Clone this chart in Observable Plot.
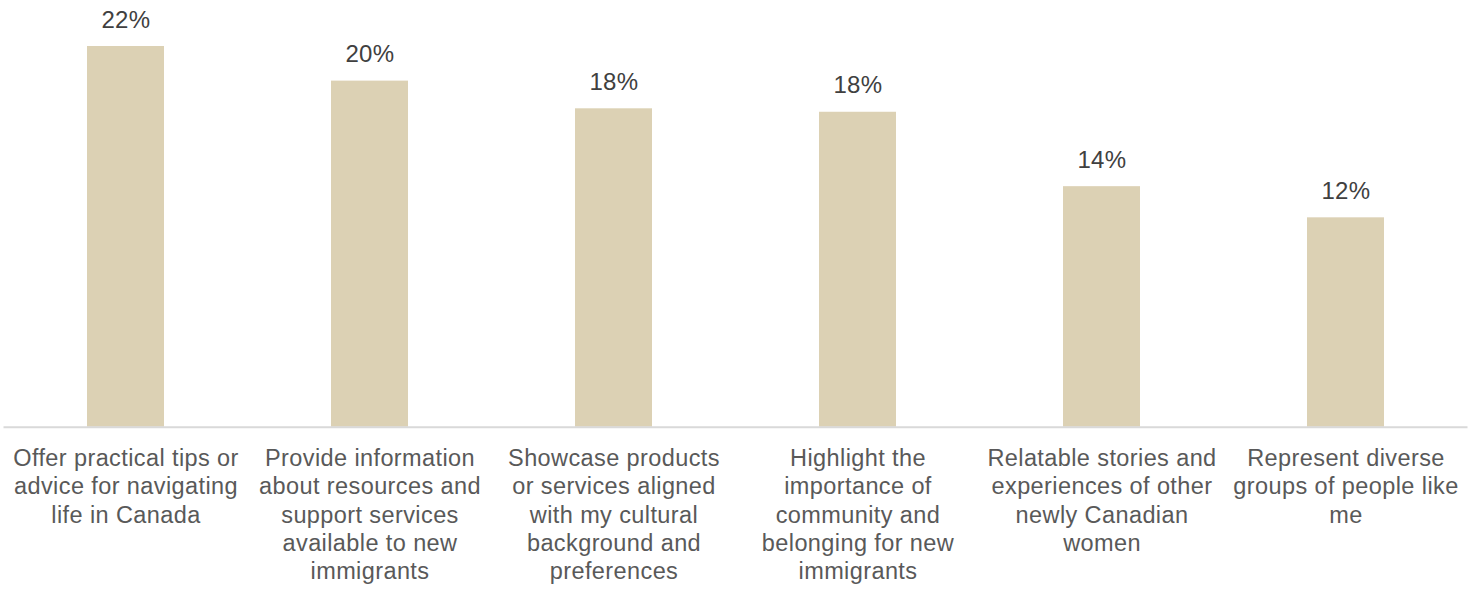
<!DOCTYPE html>
<html>
<head>
<meta charset="utf-8">
<script src="https://cdn.jsdelivr.net/npm/d3@7"></script>
<script src="https://cdn.jsdelivr.net/npm/@observablehq/plot@0.6"></script>
<style>
  html, body { margin: 0; padding: 0; background: #fff; }
</style>
</head>
<body>
<div id="chart"></div>
<script>
const categories = [
  "Offer practical tips or\nadvice for navigating\nlife in Canada",
  "Provide information\nabout resources and\nsupport services\navailable to new\nimmigrants",
  "Showcase products\nor services aligned\nwith my cultural\nbackground and\npreferences",
  "Highlight the\nimportance of\ncommunity and\nbelonging for new\nimmigrants",
  "Relatable stories and\nexperiences of other\nnewly Canadian\nwomen",
  "Represent diverse\ngroups of people like\nme"
];
const values = [22.0, 20.0, 18.4, 18.2, 13.9, 12.1];

const data = categories.map((c, i) => ({category: c, value: values[i]}));

const chart = Plot.plot({
  width: 1476,
  height: 592,
  marginTop: 11.4,
  marginBottom: 165.3,
  marginLeft: 3.5,
  marginRight: 8.5,
  style: {fontFamily: "'Liberation Sans', Arial, sans-serif", background: "#fff", letterSpacing: "0.4px"},
  x: {domain: categories, paddingInner: 0.684, paddingOuter: 0.342, label: null},
  y: {domain: [0, 24], axis: null},
  marks: [
    Plot.barY(data, {x: "category", y: "value", fill: "#dcd1b4"}),
    Plot.ruleY([0], {stroke: "#d9d9d9", strokeWidth: 2}),
    Plot.text(data, {
      x: "category", y: "value",
      text: d => d3.format(".0f")(d.value) + "%",
      dy: -26.5, fontSize: 24, fill: "#404040"
    }),
    Plot.axisX({
      tickSize: 0, tickPadding: 19, fontSize: 23.5, lineHeight: 1.2,
      fill: "#595959", label: null
    })
  ]
});
document.getElementById("chart").appendChild(chart);
</script>
</body>
</html>
